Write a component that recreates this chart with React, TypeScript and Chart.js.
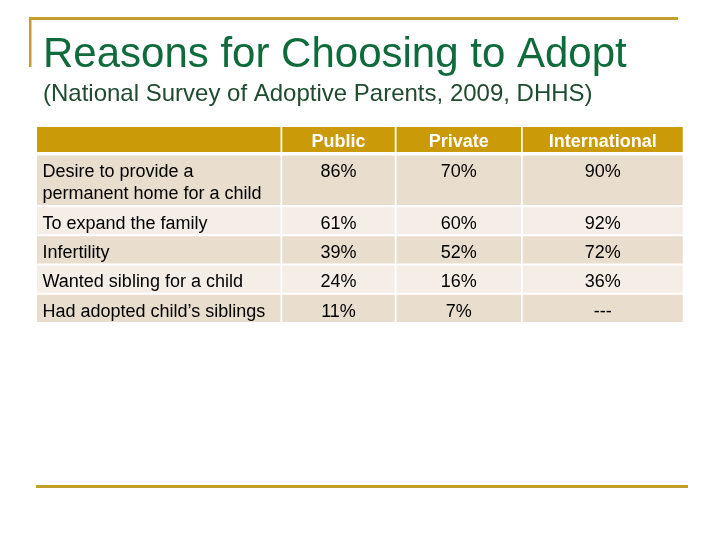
import React, { useEffect, useRef } from "react";
import { Chart, registerables } from "chart.js";

Chart.register(...registerables);

// ---- data ----
const TITLE = "Reasons for Choosing to Adopt";
const SUBTITLE = "(National Survey of Adoptive Parents, 2009, DHHS)";
const columns = ["Public", "Private", "International"];
const reasons: (string | string[])[] = [
  ["Desire to provide a", "permanent home for a child"],
  "To expand the family",
  "Infertility",
  "Wanted sibling for a child",
  "Had adopted child\u2019s siblings",
];
const publicValues: (number | null)[] = [86, 61, 39, 24, 11];
const privateValues: (number | null)[] = [70, 60, 52, 16, 7];
const internationalValues: (number | null)[] = [90, 92, 72, 36, null];

// ---- styles ----
const FONT = "'Liberation Sans', Arial, sans-serif";
const GOLD_LINE = "#C3A02B";
const HEADER_FILL = "#CA9A08";
const ROW_DARK = "#E9DDCD";
const ROW_LIGHT = "#F4EEE7";
const TITLE_GREEN = "#0F6B3C";
const SUB_GREEN = "#1F4B2E";

const LAYOUT = {
  left: 37,
  top: 127,
  colWidths: [243.5, 112.5, 124.5, 160],
  colGap: 1.75,
  headerH: 25,
  headerGap: 3.5,
  rowGap: 2,
  pad: 5,
  lineH: 22,
  firstBaseline: 21.8,
  textPadX: 5.5,
  fontSize: 18,
};

const fmt = (v: number | null | undefined) => (v == null ? "---" : `${v}%`);

const tablePlugin = {
  id: "slideTable",
  afterDraw(chart: any) {
    const ctx: CanvasRenderingContext2D = chart.ctx;
    ctx.save();

    // slide decorations
    ctx.fillStyle = GOLD_LINE;
    ctx.fillRect(29, 17, 649, 3);
    ctx.fillRect(29, 17, 2.5, 50);
    ctx.fillRect(36, 485, 652, 3);

    const L = LAYOUT;
    const colX: number[] = [];
    let x = L.left;
    for (const w of L.colWidths) {
      colX.push(x);
      x += w + L.colGap;
    }

    // header
    let y = L.top;
    ctx.fillStyle = HEADER_FILL;
    L.colWidths.forEach((w, i) => ctx.fillRect(colX[i], y, w, L.headerH));
    ctx.font = `bold ${L.fontSize}px ${FONT}`;
    ctx.fillStyle = "#FFFFFF";
    ctx.textAlign = "center";
    ctx.textBaseline = "alphabetic";
    const headers = chart.data.datasets.map((d: any) => d.label);
    headers.forEach((h: string, i: number) => {
      ctx.fillText(h, colX[i + 1] + L.colWidths[i + 1] / 2, y + 19.5);
    });
    y += L.headerH + L.headerGap;

    // rows
    const labels = chart.data.labels as (string | string[])[];
    ctx.font = `${L.fontSize}px ${FONT}`;
    labels.forEach((lab, r) => {
      const lines = Array.isArray(lab) ? lab : [lab];
      const h = L.pad + L.lineH * lines.length + (lines.length > 1 ? 0.5 : 0.25);
      ctx.fillStyle = r % 2 === 0 ? ROW_DARK : ROW_LIGHT;
      L.colWidths.forEach((w, i) => ctx.fillRect(colX[i], y, w, h));
      ctx.fillStyle = "#000000";
      ctx.textAlign = "left";
      lines.forEach((t, k) => {
        ctx.fillText(t, colX[0] + L.textPadX, y + L.firstBaseline + k * L.lineH);
      });
      ctx.textAlign = "center";
      chart.data.datasets.forEach((d: any, i: number) => {
        ctx.fillText(fmt(d.data[r]), colX[i + 1] + L.colWidths[i + 1] / 2, y + L.firstBaseline);
      });
      y += h + L.rowGap;
    });

    ctx.restore();
  },
};

export default function App() {
  const ref = useRef<HTMLCanvasElement | null>(null);

  useEffect(() => {
    if (!ref.current) return;
    const chart = new Chart(ref.current, {
      type: "bar",
      data: {
        labels: reasons as any,
        datasets: [
          { label: columns[0], data: publicValues as any, hidden: true },
          { label: columns[1], data: privateValues as any, hidden: true },
          { label: columns[2], data: internationalValues as any, hidden: true },
        ],
      },
      options: {
        animation: false,
        responsive: false,
        events: [],
        layout: { padding: { left: 43, right: 37, top: 0, bottom: 55 } },
        scales: {
          x: { display: false },
          y: { display: false },
        },
        plugins: {
          legend: { display: false },
          tooltip: { enabled: false },
          title: {
            display: true,
            text: TITLE,
            align: "start",
            color: TITLE_GREEN,
            font: { family: FONT, size: 42, weight: "normal", lineHeight: 1.2 },
            padding: { top: 30, bottom: 0 },
          },
          subtitle: {
            display: true,
            text: SUBTITLE,
            align: "start",
            color: SUB_GREEN,
            font: { family: FONT, size: 24, weight: "normal", lineHeight: 1.2 },
            padding: { top: 0, bottom: 0 },
          },
        },
      },
      plugins: [tablePlugin],
    });
    return () => chart.destroy();
  }, []);

  return (
    <div style={{ position: "fixed", left: 0, top: 0, width: 720, height: 540, background: "#FFFFFF" }}>
      <canvas ref={ref} width={720} height={540} style={{ display: "block" }} />
    </div>
  );
}
